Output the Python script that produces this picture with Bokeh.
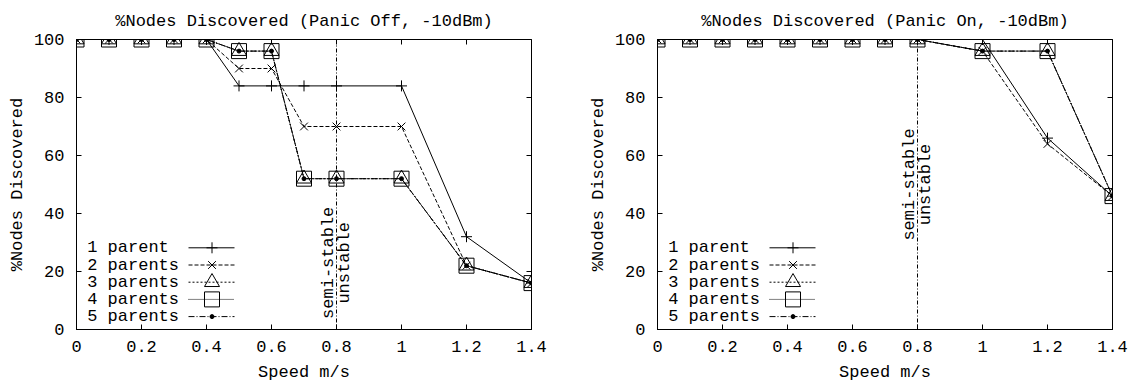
from math import pi
from bokeh.plotting import figure
from bokeh.models import FixedTicker, LinearAxis, Span, Range1d
from bokeh.layouts import row
from bokeh.embed import file_html
from bokeh.resources import INLINE
from bokeh.core.properties import value

FONT = "Liberation Mono"

# ---------------- data ----------------
speeds_off = [0, 0.1, 0.2, 0.3, 0.4, 0.5, 0.6, 0.7, 0.8, 1.0, 1.2, 1.4]
off_1 = [100, 100, 100, 100, 100, 84, 84, 84, 84, 84, 32, 16]
off_2 = [100, 100, 100, 100, 100, 90, 90, 70, 70, 70, 22, 16]
off_3 = [100, 100, 100, 100, 100, 96, 96, 52, 52, 52, 22, 16]
off_4 = [100, 100, 100, 100, 100, 96, 96, 52, 52, 52, 22, 16]
off_5 = [100, 100, 100, 100, 100, 96, 96, 52, 52, 52, 22, 16]

speeds_on = [0, 0.1, 0.2, 0.3, 0.4, 0.5, 0.6, 0.7, 0.8, 1.0, 1.2, 1.4]
on_1 = [100, 100, 100, 100, 100, 100, 100, 100, 100, 100, 66, 46]
on_2 = [100, 100, 100, 100, 100, 100, 100, 100, 100, 96, 64, 46]
on_3 = [100, 100, 100, 100, 100, 100, 100, 100, 100, 96, 96, 46]
on_4 = [100, 100, 100, 100, 100, 100, 100, 100, 100, 96, 96, 46]
on_5 = [100, 100, 100, 100, 100, 100, 100, 100, 100, 96, 96, 46]

series_labels = ["1 parent", "2 parents", "3 parents", "4 parents", "5 parents"]
titles = ["%Nodes Discovered (Panic Off, -10dBm)", "%Nodes Discovered (Panic On, -10dBm)"]
x_axis_label = "Speed m/s"
y_axis_label = "%Nodes Discovered"
x_ticks = [0, 0.2, 0.4, 0.6, 0.8, 1, 1.2, 1.4]
x_tick_labels = ["0", "0.2", "0.4", "0.6", "0.8", "1", "1.2", "1.4"]
y_ticks = [0, 20, 40, 60, 80, 100]
y_tick_labels = ["0", "20", "40", "60", "80", "100"]
boundary_speed = 0.8
boundary_labels = ["semi-stable", "unstable"]
boundary_label_y = [23, 50]

# ---------------- styles ----------------
STYLES = [
    dict(dash="solid", marker="cross", size=11, fill=None),
    dict(dash="4 2", marker="x", size=11, fill=None),
    dict(dash="2 2", marker="triangle", size=15, fill=None),
    dict(dash="1 1", marker="square", size=15, fill=None),
    dict(dash="6 2 1 2", marker="circle", size=4, fill="black"),
]

FRAME_W, FRAME_H = 455, 290
X_MAX, Y_MAX = 1.4, 100
FS = "17px"
FIG_H = 385
BORDER_TOP = 39


def px_x(px):
    return px / FRAME_W * X_MAX


def px_y(px_from_top):
    return (FRAME_H - px_from_top) / FRAME_H * Y_MAX


def build(title, speeds, series, width, border_left, label_y):
    border_right = width - border_left - FRAME_W
    border_bottom = FIG_H - BORDER_TOP - FRAME_H
    p = figure(width=width, height=FIG_H,
               x_range=Range1d(0, X_MAX), y_range=Range1d(0, Y_MAX),
               output_backend="svg", toolbar_location=None,
               min_border_left=border_left, min_border_right=border_right,
               min_border_top=BORDER_TOP, min_border_bottom=border_bottom,
               title=title, background_fill_color="white",
               border_fill_color="white")
    p.title.text_font = FONT
    p.title.text_font_size = FS
    p.title.text_font_style = "normal"
    p.title.text_color = "black"
    p.title.align = "center"
    p.title.standoff = 18
    p.outline_line_color = "black"
    p.outline_line_width = 1
    p.grid.visible = False

    for ax in (p.xaxis[0], p.yaxis[0]):
        ax.major_tick_in = 5
        ax.major_tick_out = 0
        ax.minor_tick_line_color = None
        ax.axis_line_color = "black"
        ax.major_tick_line_color = "black"
        ax.major_label_text_font = FONT
        ax.major_label_text_font_size = FS
        ax.major_label_text_color = "black"
        ax.axis_label_text_font = FONT
        ax.axis_label_text_font_size = FS
        ax.axis_label_text_font_style = "normal"
        ax.axis_label_text_color = "black"
    p.xaxis.ticker = FixedTicker(ticks=x_ticks)
    p.xaxis.major_label_overrides = dict(zip(x_ticks, x_tick_labels))
    p.yaxis.ticker = FixedTicker(ticks=y_ticks)
    p.yaxis.major_label_overrides = dict(zip(y_ticks, y_tick_labels))
    p.xaxis.axis_label = x_axis_label
    p.yaxis.axis_label = y_axis_label
    p.xaxis.major_label_standoff = 11
    p.xaxis.axis_label_standoff = 8
    p.yaxis.major_label_standoff = 12
    p.yaxis.axis_label_standoff = 4

    # mirror ticks (no labels)
    for side in ("right", "above"):
        ax = LinearAxis(ticker=FixedTicker(ticks=y_ticks if side == "right" else x_ticks))
        ax.major_tick_in = 5
        ax.major_tick_out = 0
        ax.minor_tick_line_color = None
        ax.axis_line_color = None
        ax.major_label_text_font_size = "0px"
        ax.major_label_text_color = None
        ax.major_label_standoff = 0
        p.add_layout(ax, side)

    # boundary line and labels
    p.add_layout(Span(location=boundary_speed, dimension="height",
                      line_color="black", line_width=1, line_dash="4 2 1 2"))
    p.text(x=[boundary_speed, boundary_speed], y=[label_y, label_y],
           text=boundary_labels, angle=pi / 2, x_offset=[-8, 8],
           text_align="center", text_baseline="middle",
           text_font=value(FONT), text_font_size=FS, text_color="black")

    # series
    for ys, st in zip(series, STYLES):
        p.line(speeds, ys, line_color="black", line_width=1, line_dash=st["dash"])
        p.scatter(speeds, ys, marker=st["marker"], size=st["size"],
                  line_color="black", line_width=1,
                  fill_color=st["fill"])

    # legend (gnuplot style: text then sample)
    row0, step = 208.3, 17.2
    for i, (lab, st) in enumerate(zip(series_labels, STYLES)):
        yy = px_y(row0 + step * i)
        p.text(x=[px_x(10.7)], y=[yy], text=[lab], text_align="left",
               text_baseline="middle", text_font=value(FONT),
               text_font_size=FS, text_color="black")
        p.segment(x0=[px_x(112)], y0=[yy], x1=[px_x(158)], y1=[yy],
                  line_color="black", line_width=1, line_dash=st["dash"])
        p.scatter(x=[px_x(135.5)], y=[yy], marker=st["marker"], size=st["size"],
                  line_color="black", line_width=1, fill_color=st["fill"])
    return p


p1 = build(titles[0], speeds_off, [off_1, off_2, off_3, off_4, off_5], 566, 76, boundary_label_y[0])
p2 = build(titles[1], speeds_on, [on_1, on_2, on_3, on_4, on_5], 566, 91, boundary_label_y[1])

layout = row(p1, p2, spacing=0)
open("out.html", "w").write(file_html(layout, INLINE))
